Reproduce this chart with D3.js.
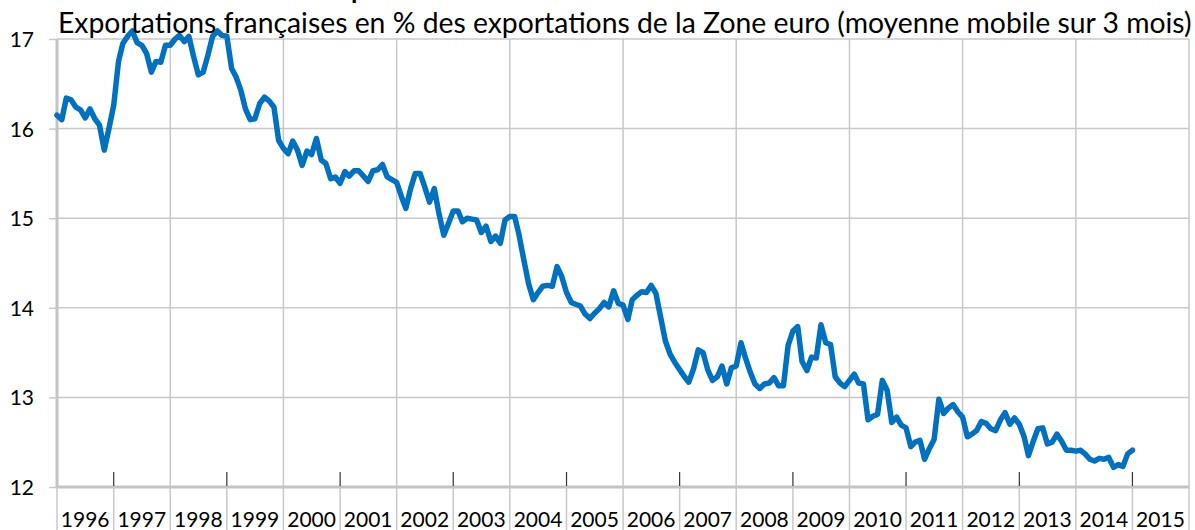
<!DOCTYPE html>
<meta charset="utf-8">
<script src="https://d3js.org/d3.v7.min.js"></script>
<style>
body { margin: 0; background: #fff; }
text { font-family: Lato, "Noto Sans", sans-serif; fill: #000; }
.grid line { stroke: #c8c8c8; stroke-width: 1.5px; }
</style>
<body>
<div id="chart"></div>
</body>
<script>

// monthly values, 3-month moving average, Jan 1996 -> Jan 2015
const v1996 = [16.15, 16.10, 16.34, 16.32, 16.24, 16.21, 16.12, 16.22, 16.11, 16.04, 15.76, 16.00];
const v1997 = [16.26, 16.75, 16.95, 17.03, 17.09, 16.96, 16.93, 16.84, 16.63, 16.75, 16.74, 16.93];
const v1998 = [16.93, 17.00, 17.04, 16.97, 17.03, 16.80, 16.60, 16.63, 16.82, 17.03, 17.09, 17.04];
const v1999 = [17.03, 16.67, 16.58, 16.43, 16.22, 16.10, 16.11, 16.28, 16.35, 16.31, 16.24, 15.87];
const v2000 = [15.78, 15.72, 15.86, 15.76, 15.59, 15.75, 15.71, 15.89, 15.65, 15.61, 15.44, 15.46];
const v2001 = [15.39, 15.52, 15.47, 15.53, 15.53, 15.47, 15.41, 15.53, 15.54, 15.60, 15.46, 15.43];
const v2002 = [15.40, 15.24, 15.11, 15.33, 15.50, 15.50, 15.35, 15.18, 15.33, 15.05, 14.81, 14.94];
const v2003 = [15.08, 15.08, 14.96, 15.00, 14.99, 14.98, 14.84, 14.91, 14.74, 14.80, 14.72, 14.98];
const v2004 = [15.02, 15.02, 14.81, 14.53, 14.27, 14.09, 14.17, 14.24, 14.25, 14.24, 14.46, 14.35];
const v2005 = [14.17, 14.06, 14.04, 14.02, 13.93, 13.88, 13.94, 13.99, 14.06, 14.01, 14.19, 14.05];
const v2006 = [14.03, 13.87, 14.09, 14.14, 14.18, 14.17, 14.25, 14.16, 13.89, 13.63, 13.48, 13.39];
const v2007 = [13.31, 13.23, 13.17, 13.32, 13.53, 13.50, 13.31, 13.19, 13.23, 13.35, 13.15, 13.33];
const v2008 = [13.35, 13.61, 13.44, 13.28, 13.15, 13.10, 13.15, 13.16, 13.22, 13.13, 13.13, 13.58];
const v2009 = [13.74, 13.79, 13.40, 13.30, 13.45, 13.44, 13.81, 13.61, 13.59, 13.23, 13.16, 13.12];
const v2010 = [13.19, 13.26, 13.16, 13.15, 12.75, 12.79, 12.81, 13.19, 13.08, 12.72, 12.78, 12.69];
const v2011 = [12.66, 12.45, 12.50, 12.52, 12.31, 12.43, 12.53, 12.98, 12.82, 12.88, 12.92, 12.84];
const v2012 = [12.78, 12.56, 12.59, 12.63, 12.73, 12.71, 12.65, 12.63, 12.75, 12.83, 12.70, 12.77];
const v2013 = [12.70, 12.56, 12.35, 12.51, 12.65, 12.66, 12.48, 12.50, 12.59, 12.51, 12.41, 12.41];
const v2014 = [12.40, 12.41, 12.37, 12.31, 12.29, 12.32, 12.31, 12.33, 12.22, 12.25, 12.23, 12.37];
const v2015 = [12.41];

const yearLabels = ["1996","1997","1998","1999","2000","2001","2002","2003","2004","2005",
                    "2006","2007","2008","2009","2010","2011","2012","2013","2014","2015"];
const yTicks = [12, 13, 14, 15, 16, 17];
const title = "Exportations françaises en % des exportations de la Zone euro (moyenne mobile sur 3 mois)";

const values = [].concat(v1996, v1997, v1998, v1999, v2000, v2001, v2002, v2003, v2004, v2005,
                         v2006, v2007, v2008, v2009, v2010, v2011, v2012, v2013, v2014, v2015);
const data = values.map((v, i) => ({date: new Date(1996, i, 1), value: v}));

const W = 1195, H = 530;
const plot = {left: 57, right: 1189, top: 39, bottom: 487};

const svg = d3.select("#chart").append("svg")
  .attr("width", W)
  .attr("height", H);

const x = d3.scaleTime()
  .domain([new Date(1996, 0, 1), new Date(2016, 0, 1)])
  .range([plot.left, plot.right]);

const y = d3.scaleLinear()
  .domain([12, 17])
  .range([plot.bottom, plot.top]);

const bounds = d3.range(1996, 2017).map(yr => new Date(yr, 0, 1));

// horizontal grid
svg.append("g").attr("class", "grid")
  .selectAll("line")
  .data(yTicks.filter(d => d > 12))
  .join("line")
    .attr("x1", plot.left).attr("x2", plot.right)
    .attr("y1", d => y(d)).attr("y2", d => y(d));

// year separators below axis (all years), through plot for even ones
svg.append("g").attr("class", "grid")
  .selectAll("line")
  .data(bounds)
  .join("line")
    .attr("x1", d => x(d)).attr("x2", d => x(d))
    .attr("y1", d => (d.getFullYear() % 2 === 0) ? plot.top : plot.bottom)
    .attr("y2", H);

// y axis
const yAxis = svg.append("g")
  .attr("transform", `translate(${plot.left},0)`)
  .call(d3.axisLeft(y).tickValues(yTicks).tickSize(8).tickPadding(15).tickFormat(d3.format("d")));
yAxis.select(".domain").remove();
yAxis.selectAll(".tick line").attr("stroke", "#c8c8c8").attr("stroke-width", 1.5);
yAxis.selectAll(".tick text").style("font-size", "21px").attr("dy", "0.36em");

// axis lines
svg.append("line")
  .attr("x1", plot.left).attr("x2", plot.left)
  .attr("y1", plot.top).attr("y2", plot.bottom)
  .attr("stroke", "#c4c4c4").attr("stroke-width", 3);
svg.append("line")
  .attr("x1", plot.left).attr("x2", plot.right)
  .attr("y1", plot.bottom).attr("y2", plot.bottom)
  .attr("stroke", "#c4c4c4").attr("stroke-width", 3);

// black ticks at odd years
svg.append("g")
  .selectAll("line")
  .data(bounds.filter(d => d.getFullYear() % 2 === 1))
  .join("line")
    .attr("x1", d => x(d)).attr("x2", d => x(d))
    .attr("y1", plot.bottom - 15).attr("y2", plot.bottom - 1)
    .attr("stroke", "#333").attr("stroke-width", 1.2);

// year labels, centred in each year
svg.append("g")
  .selectAll("text")
  .data(yearLabels)
  .join("text")
    .attr("x", d => x(new Date(+d, 6, 1)))
    .attr("y", 527)
    .attr("text-anchor", "middle")
    .style("font-size", "21px")
    .text(d => d);

// line
const line = d3.line()
  .x(d => x(d.date))
  .y(d => y(d.value));

svg.append("path")
  .datum(data)
  .attr("fill", "none")
  .attr("stroke", "#0070c0")
  .attr("stroke-width", 5.5)
  .attr("stroke-linejoin", "round")
  .attr("stroke-linecap", "round")
  .attr("d", line);

// title (fit to width)
const t = svg.append("text")
  .attr("x", 58)
  .attr("y", 33)
  .style("font-size", "22px")
  .text(title);
const len = t.node().getComputedTextLength();
t.style("font-size", (22 * 1134 / len).toFixed(2) + "px");

// cut-off bold heading above (only its descender shows, as in the source)
svg.append("text")
  .attr("x", 351)
  .attr("y", -1)
  .style("font-size", "26px")
  .style("font-weight", "bold")
  .text("p");

</script>
